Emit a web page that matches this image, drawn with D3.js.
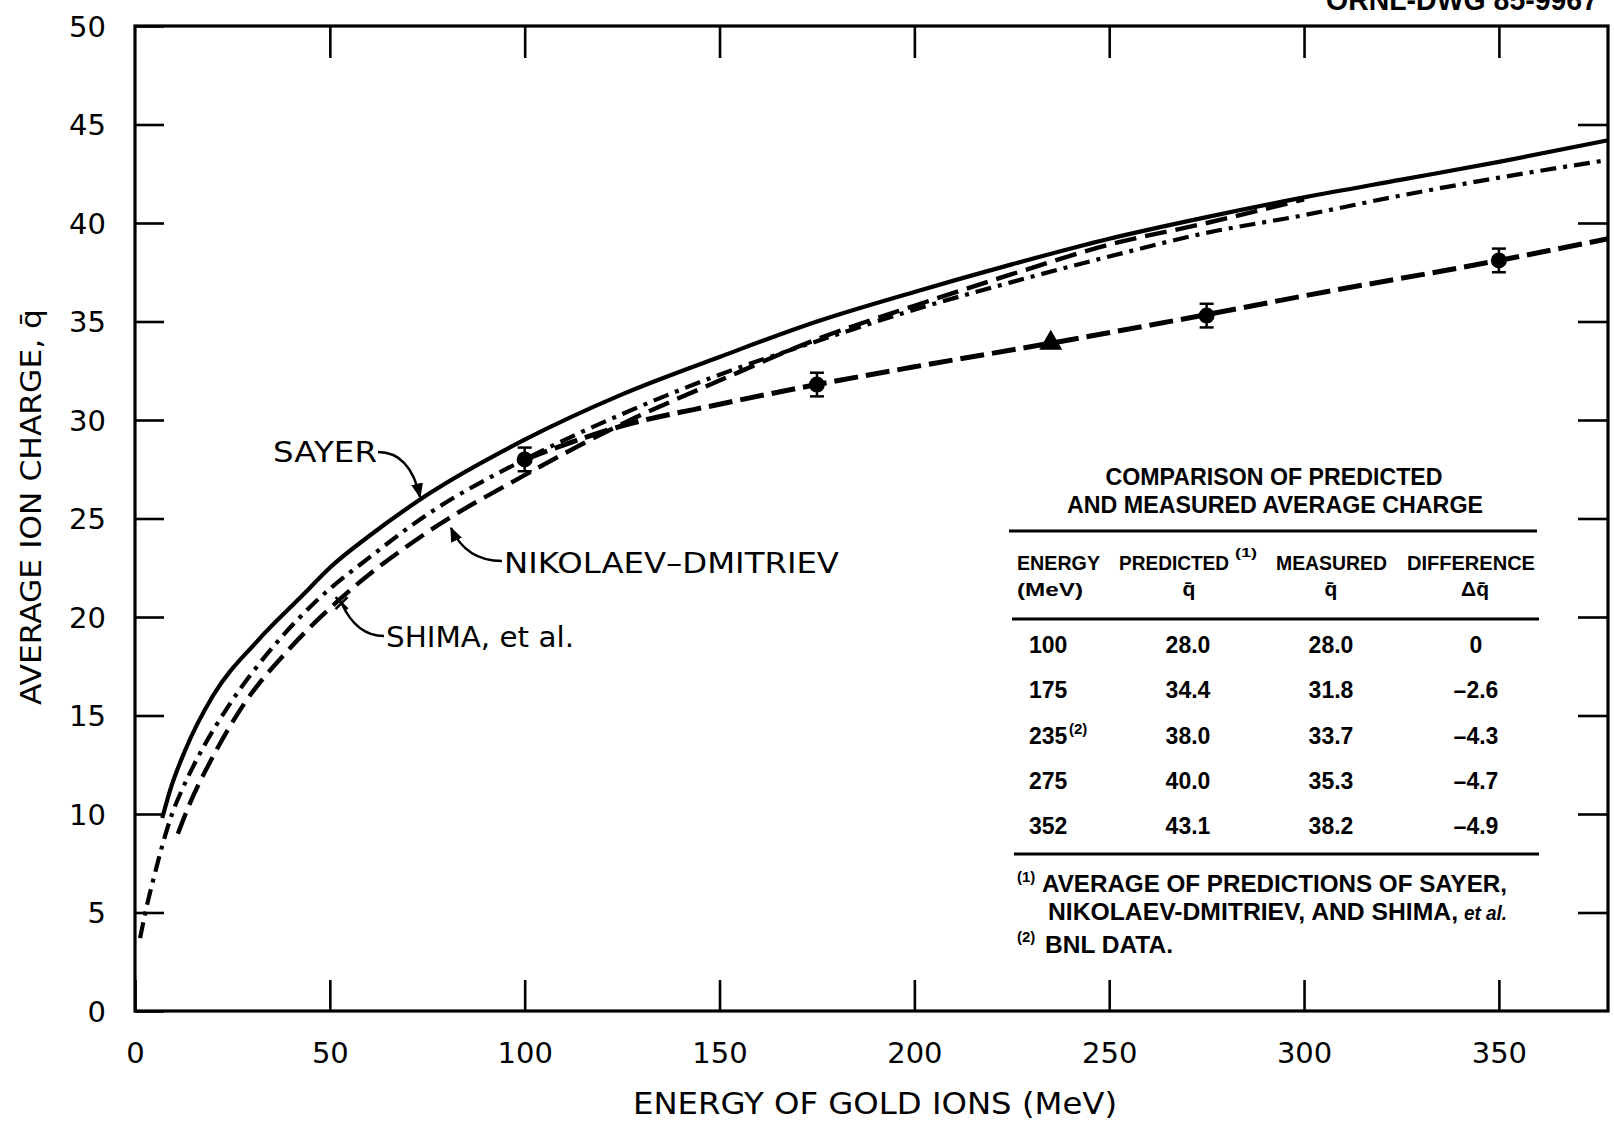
<!DOCTYPE html>
<html lang="en">
<head>
<meta charset="utf-8">
<title>Average ion charge of gold ions</title>
<script src="https://d3js.org/d3.v7.min.js"></script>
<style>
  body { margin: 0; background: #fff; }
  svg { display: block; }
  .tick text { font-family: "DejaVu Sans", sans-serif; font-size: 29px; fill: #000; }
  .lbl { font-family: "DejaVu Sans", sans-serif; fill: #000; }
  .tbl { font-family: "Liberation Sans", Arial, sans-serif; font-weight: bold; fill: #000; }
</style>
</head>
<body>
<script>
// ---- values ----
const energyTicks = [0, 50, 100, 150, 200, 250, 300, 350];
const chargeTicks = [0, 5, 10, 15, 20, 25, 30, 35, 40, 45, 50];

// SAYER (solid)
const sayerE = [7, 9, 12.8, 20, 31.5, 43, 50, 60, 75, 100, 125, 150, 175, 200, 225, 250, 275, 300, 325, 350, 378];
const sayerQ = [9.8, 11.2, 13.2, 16.0, 18.8, 21.1, 22.5, 24.1, 26.2, 29.0, 31.3, 33.2, 35.0, 36.5, 37.9, 39.2, 40.3, 41.3, 42.2, 43.1, 44.2];

// dash-dot curve
const dashDotE = [1.3, 3, 5, 7, 9.5, 12, 16.2, 24.4, 35.5, 47, 60, 75, 100, 125, 150, 175, 200, 225, 250, 275, 300, 325, 350, 378];
const dashDotQ = [3.7, 5.3, 6.9, 8.4, 10.0, 11.2, 12.9, 15.6, 18.5, 20.9, 23.0, 25.2, 28.0, 30.3, 32.3, 34.0, 35.6, 37.0, 38.3, 39.5, 40.4, 41.4, 42.3, 43.2];

// long-dash curve (joins SAYER near 300 MeV)
const longDashE = [11, 14, 19.7, 27.7, 39.7, 52, 75, 100, 125, 150, 175, 200, 225, 250, 275, 300];
const longDashQ = [9.0, 10.5, 12.8, 15.5, 18.4, 20.8, 24.3, 27.2, 29.8, 32.0, 34.1, 35.8, 37.4, 38.9, 40.0, 41.2];
const shimaMark = [53, 20.7];

// measured (dashed line + points)
const measLineE = [100, 125, 150, 175, 200, 235, 275, 300, 350, 378];
const measLineQ = [28.0, 29.7, 30.8, 31.8, 32.7, 33.9, 35.35, 36.3, 38.1, 39.2];
const measE = [100, 175, 275, 350];
const measQ = [28.0, 31.8, 35.3, 38.1];
const measErr = [0.6, 0.6, 0.6, 0.6];
const bnlE = [235];
const bnlQ = [33.9];

// table
const tableEnergy = ["100", "175", "235", "275", "352"];
const tablePredicted = ["28.0", "34.4", "38.0", "40.0", "43.1"];
const tableMeasured = ["28.0", "31.8", "33.7", "35.3", "38.2"];
const tableDiff = ["0", "\u20132.6", "\u20134.3", "\u20134.7", "\u20134.9"];

// ---- chart ----
const W = 1614, H = 1126;
const svg = d3.select("body").append("svg").attr("width", W).attr("height", H);

const x = d3.scaleLinear().domain([0, 378]).range([135, 1608]);
const y = d3.scaleLinear().domain([0, 50]).range([1011, 26]);

// arrowhead
svg.append("defs").append("marker")
  .attr("id", "arr").attr("viewBox", "0 0 10 10")
  .attr("refX", 9).attr("refY", 5)
  .attr("markerWidth", 15).attr("markerHeight", 15)
  .attr("markerUnits", "userSpaceOnUse")
  .attr("orient", "auto")
  .append("path").attr("d", "M0,1 L10,5 L0,9 Z").attr("fill", "#000");

// axes (ticks pointing inward)
const axB = svg.append("g").attr("transform", "translate(0," + y(0) + ")")
  .call(d3.axisBottom(x).tickValues(energyTicks).tickSize(-31).tickPadding(30).tickFormat(d3.format("d")));
const axL = svg.append("g").attr("transform", "translate(" + x(0) + ",0)")
  .call(d3.axisLeft(y).tickValues(chargeTicks).tickSize(-29).tickPadding(29).tickFormat(d3.format("d")));
const axT = svg.append("g").attr("transform", "translate(0," + y(50) + ")")
  .call(d3.axisTop(x).tickValues(energyTicks.slice(1)).tickSize(-32).tickFormat(""));
const axR = svg.append("g").attr("transform", "translate(" + x(378) + ",0)")
  .call(d3.axisRight(y).tickValues(chargeTicks.slice(1, -1)).tickSize(-30).tickFormat(""));
[axB, axL, axT, axR].forEach(a => {
  a.select(".domain").remove();
  a.selectAll(".tick line").attr("stroke", "#000").attr("stroke-width", 2.6);
});
axB.selectAll(".tick text").attr("dy", "0.35em").attr("y", 42);
axL.selectAll(".tick text").attr("dy", "0.36em");

// frame
svg.append("rect")
  .attr("x", x(0)).attr("y", y(50))
  .attr("width", x(378) - x(0)).attr("height", y(0) - y(50))
  .attr("fill", "none").attr("stroke", "#000").attr("stroke-width", 3.2);

// axis titles
svg.append("text").attr("class", "lbl")
  .attr("x", 875).attr("y", 1114).attr("text-anchor", "middle")
  .attr("font-size", 31).attr("textLength", 484).attr("lengthAdjust", "spacingAndGlyphs")
  .text("ENERGY OF GOLD IONS (MeV)");
svg.append("text").attr("class", "lbl")
  .attr("transform", "translate(41,507) rotate(-90)").attr("text-anchor", "middle")
  .attr("font-size", 28).attr("textLength", 396).attr("lengthAdjust", "spacingAndGlyphs")
  .text("AVERAGE ION CHARGE, q\u0304");

// drawing number (cropped at top, as in the original)
svg.append("text").attr("class", "tbl")
  .attr("x", 1326).attr("y", 10).attr("font-size", 30)
  .attr("textLength", 272).attr("lengthAdjust", "spacingAndGlyphs")
  .text("ORNL-DWG 85-9967");

// curves
const line = d3.line().x(d => x(d[0])).y(d => y(d[1])).curve(d3.curveMonotoneX);
const zip = (a, b) => a.map((v, i) => [v, b[i]]);

svg.append("path").datum(zip(sayerE, sayerQ)).attr("d", line)
  .attr("fill", "none").attr("stroke", "#000").attr("stroke-width", 4.2);
svg.append("path").datum(zip(dashDotE, dashDotQ)).attr("d", line)
  .attr("fill", "none").attr("stroke", "#000").attr("stroke-width", 4.2)
  .attr("stroke-dasharray", "16,7,4,7");
svg.append("path").datum(zip(longDashE, longDashQ)).attr("d", line)
  .attr("fill", "none").attr("stroke", "#000").attr("stroke-width", 4.4)
  .attr("stroke-dasharray", "22,9");
svg.append("path").datum(zip(measLineE, measLineQ)).attr("d", line)
  .attr("fill", "none").attr("stroke", "#000").attr("stroke-width", 5)
  .attr("stroke-dasharray", "24,8");

// measured points with error bars
const pts = svg.append("g");
measE.forEach((e, i) => {
  const cx = x(e), cy = y(measQ[i]);
  const y1 = y(measQ[i] + measErr[i]), y2 = y(measQ[i] - measErr[i]);
  pts.append("line").attr("x1", cx).attr("x2", cx).attr("y1", y1).attr("y2", y2)
    .attr("stroke", "#000").attr("stroke-width", 2.5);
  [y1, y2].forEach(yy => pts.append("line").attr("x1", cx - 7).attr("x2", cx + 7)
    .attr("y1", yy).attr("y2", yy).attr("stroke", "#000").attr("stroke-width", 2.5));
  pts.append("circle").attr("cx", cx).attr("cy", cy).attr("r", 8).attr("fill", "#000");
});
bnlE.forEach((e, i) => {
  pts.append("path")
    .attr("transform", "translate(" + x(e) + "," + y(bnlQ[i]) + ")")
    .attr("d", d3.symbol(d3.symbolTriangle, 230)).attr("fill", "#000");
});

// SHIMA mark on the long-dash curve
const sm = [x(shimaMark[0]), y(shimaMark[1])];
svg.append("path")
  .attr("d", `M${sm[0] - 6},${sm[1] - 6}L${sm[0] + 6},${sm[1] + 6}M${sm[0] + 6},${sm[1] - 6}L${sm[0] - 6},${sm[1] + 6}`)
  .attr("stroke", "#000").attr("stroke-width", 2.5);

// curve labels and leaders
function label(xx, yy, s, len) {
  svg.append("text").attr("class", "lbl").attr("x", xx).attr("y", yy)
    .attr("font-size", 29).attr("textLength", len).attr("lengthAdjust", "spacingAndGlyphs").text(s);
}
label(273, 462, "SAYER", 104);
label(504, 573, "NIKOLAEV\u2013DMITRIEV", 335);
label(386, 647, "SHIMA, et al.", 188);

svg.append("path").attr("d", "M378,452 C402,452 414,470 420,497")
  .attr("fill", "none").attr("stroke", "#000").attr("stroke-width", 2.4).attr("marker-end", "url(#arr)");
svg.append("path").attr("d", "M502,561 C480,561 462,552 451,528")
  .attr("fill", "none").attr("stroke", "#000").attr("stroke-width", 2.4).attr("marker-end", "url(#arr)");
svg.append("path").attr("d", `M384,636 C366,636 352,626 ${sm[0]},${sm[1]}`)
  .attr("fill", "none").attr("stroke", "#000").attr("stroke-width", 2.4);

// ---- comparison table ----
const tb = svg.append("g");
function t(xx, yy, s, size, opts = {}) {
  const el = tb.append("text").attr("class", "tbl").attr("x", xx).attr("y", yy)
    .attr("font-size", size).attr("text-anchor", opts.anchor || "start").text(s);
  if (opts.len) el.attr("textLength", opts.len).attr("lengthAdjust", "spacingAndGlyphs");
  if (opts.italic) el.attr("font-style", "italic");
  return el;
}
function rule(x1, x2, yy) {
  tb.append("line").attr("x1", x1).attr("x2", x2).attr("y1", yy).attr("y2", yy)
    .attr("stroke", "#000").attr("stroke-width", 3);
}

t(1274, 485, "COMPARISON OF PREDICTED", 23, { anchor: "middle", len: 337 });
t(1275, 513, "AND MEASURED AVERAGE CHARGE", 23, { anchor: "middle", len: 416 });
rule(1009, 1537, 531);

t(1017, 570, "ENERGY", 21, { len: 83 });
t(1119, 570, "PREDICTED", 21, { len: 110 });
t(1235, 557, "(1)", 13, { len: 22 });
t(1276, 570, "MEASURED", 21, { len: 111 });
t(1407, 570, "DIFFERENCE", 21, { len: 128 });
t(1017, 596, "(MeV)", 19, { len: 66 });
t(1189, 596, "q\u0304", 21, { anchor: "middle" });
t(1331, 596, "q\u0304", 21, { anchor: "middle" });
t(1475, 596, "\u0394q\u0304", 21, { anchor: "middle" });
rule(1012, 1539, 619);

const rowY = d3.scalePoint().domain(d3.range(tableEnergy.length)).range([653, 834]);
tableEnergy.forEach((e, i) => {
  const yy = rowY(i);
  t(1029, yy, e, 23);
  if (e === "235") t(1069, yy - 10, "(2)", 15);
  t(1188, yy, tablePredicted[i], 23, { anchor: "middle" });
  t(1331, yy, tableMeasured[i], 23, { anchor: "middle" });
  t(1476, yy, tableDiff[i], 23, { anchor: "middle" });
});
rule(1014, 1539, 854);

t(1017, 882, "(1)", 15);
t(1042, 892, "AVERAGE OF PREDICTIONS OF SAYER,", 23, { len: 465 });
t(1048, 920, "NIKOLAEV-DMITRIEV, AND SHIMA,", 23, { len: 410 });
t(1464, 920, "et al.", 21, { italic: true, len: 43 });
t(1017, 942, "(2)", 15);
t(1045, 953, "BNL DATA.", 23, { len: 128 });
</script>
</body>
</html>
